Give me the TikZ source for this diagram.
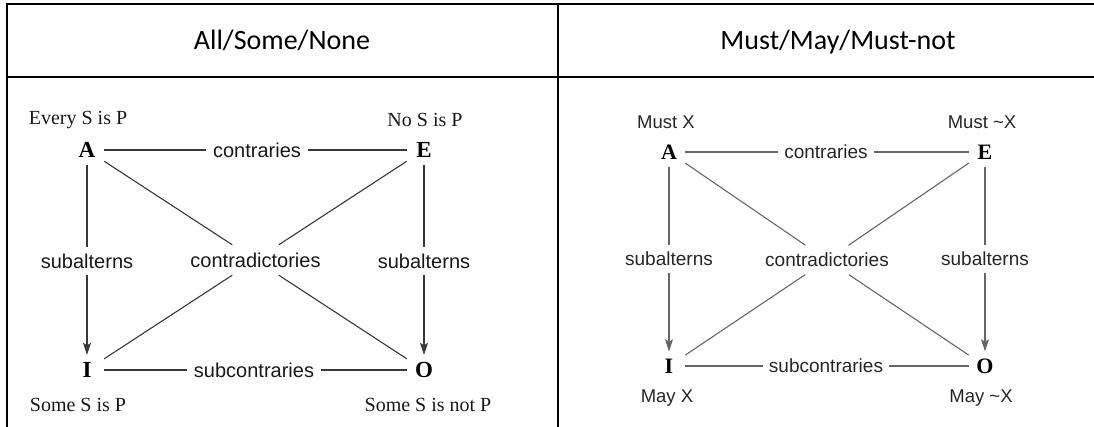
\documentclass[tikz,border=0pt]{standalone}
\usepackage{fontspec}
\setmainfont{Liberation Serif}
\newfontfamily\hdrfont{Carlito}
\newfontfamily\helv{Liberation Sans}
\usetikzlibrary{arrows.meta}

\tikzset{
  frame/.style={line width=2pt, black, line cap=rect},
  hdr/.style={font=\hdrfont\fontsize{28}{32}\selectfont, inner sep=0pt, anchor=base},
  termL/.style={font=\fontsize{20}{24}\selectfont, inner sep=0pt, text=black!90},
  termR/.style={font=\helv\fontsize{18.5}{22}\selectfont, inner sep=0pt, text=black!85},
  corner/.style={font=\bfseries\fontsize{23}{26}\selectfont, inner sep=0pt,
                 minimum width=34pt, minimum height=30pt},
  cornerR/.style={corner, font=\bfseries\fontsize{22}{26}\selectfont,
                 minimum width=32pt, minimum height=29pt},
  relL/.style={font=\helv\fontsize{20}{24}\selectfont, inner xsep=7pt, inner ysep=0pt,
               minimum height=28pt, text=black!90},
  relR/.style={font=\helv\fontsize{19}{23}\selectfont, inner xsep=6pt, inner ysep=0pt,
               minimum height=27pt, text=black!85},
  linkL/.style={draw=black!78, line width=1.1pt},
  linkR/.style={draw=black!60, line width=1.1pt},
  subarrow/.style={-{Stealth[length=12pt,width=8pt,inset=2.5pt]}},
}

\begin{document}
\begin{tikzpicture}[x=1pt, y=-1pt]
  \useasboundingbox (0,0) rectangle (1094,427);
  \fill[white] (0,0) rectangle (1094,427);

  % table rules
  \draw[frame] (7,440) -- (7,3.8) -- (1100,3.8);
  \draw[frame] (7,77) -- (1100,77);
  \draw[frame] (557.5,3.8) -- (557.5,440);

  % column headers
  \node[hdr] (hdrL) at (282,50) {All/Some/None};
  \node[hdr] (hdrR) at (838,50) {Must/May/Must-not};

  % ---------- square of opposition: quantifiers ----------
  \node[corner] (A) at (87,150) {A};
  \node[corner] (E) at (424,150) {E};
  \node[corner] (I) at (87,370) {I};
  \node[corner] (O) at (424,370) {O};

  \node[termL] (tA) at (78,120) {Every S is P};
  \node[termL] (tE) at (425,120) {No S is P};
  \node[termL] (tI) at (78,405) {Some S is P};
  \node[termL] (tO) at (428,405) {Some S is not P};

  \node[relL] (conL) at (257,150) {contraries};
  \node[relL] (subLa) at (87,261) {subalterns};
  \node[relL] (subLb) at (424,261) {subalterns};
  \node[relL, minimum height=30pt] (cdL) at (255.5,260) {contradictories};
  \node[relL] (scL) at (254,370) {subcontraries};

  \draw[linkL] (A) -- (conL) -- (E);
  \draw[linkL] (I) -- (scL) -- (O);
  \draw[linkL, subarrow] (A) -- (subLa) -- (I);
  \draw[linkL, subarrow] (E) -- (subLb) -- (O);
  \draw[linkL] (A) -- (cdL) -- (O);
  \draw[linkL] (E) -- (cdL) -- (I);

  % ---------- square of opposition: modalities ----------
  \node[cornerR] (mA) at (669,152) {A};
  \node[cornerR] (mE) at (985,152) {E};
  \node[cornerR] (mI) at (669,366) {I};
  \node[cornerR] (mO) at (985,366) {O};

  \node[termR] (mtA) at (666,122) {Must X};
  \node[termR] (mtE) at (982,122) {Must \textasciitilde X};
  \node[termR] (mtI) at (667,398) {May X};
  \node[termR] (mtO) at (981,398) {May \textasciitilde X};

  \node[relR] (conR) at (826,152) {contraries};
  \node[relR] (subRa) at (669,259) {subalterns};
  \node[relR] (subRb) at (985,259) {subalterns};
  \node[relR, minimum height=29pt] (cdR) at (827,260) {contradictories};
  \node[relR] (scR) at (826,366) {subcontraries};

  \draw[linkR] (mA) -- (conR) -- (mE);
  \draw[linkR] (mI) -- (scR) -- (mO);
  \draw[linkR, subarrow] (mA) -- (subRa) -- (mI);
  \draw[linkR, subarrow] (mE) -- (subRb) -- (mO);
  \draw[linkR] (mA) -- (cdR) -- (mO);
  \draw[linkR] (mE) -- (cdR) -- (mI);
\end{tikzpicture}
\end{document}
